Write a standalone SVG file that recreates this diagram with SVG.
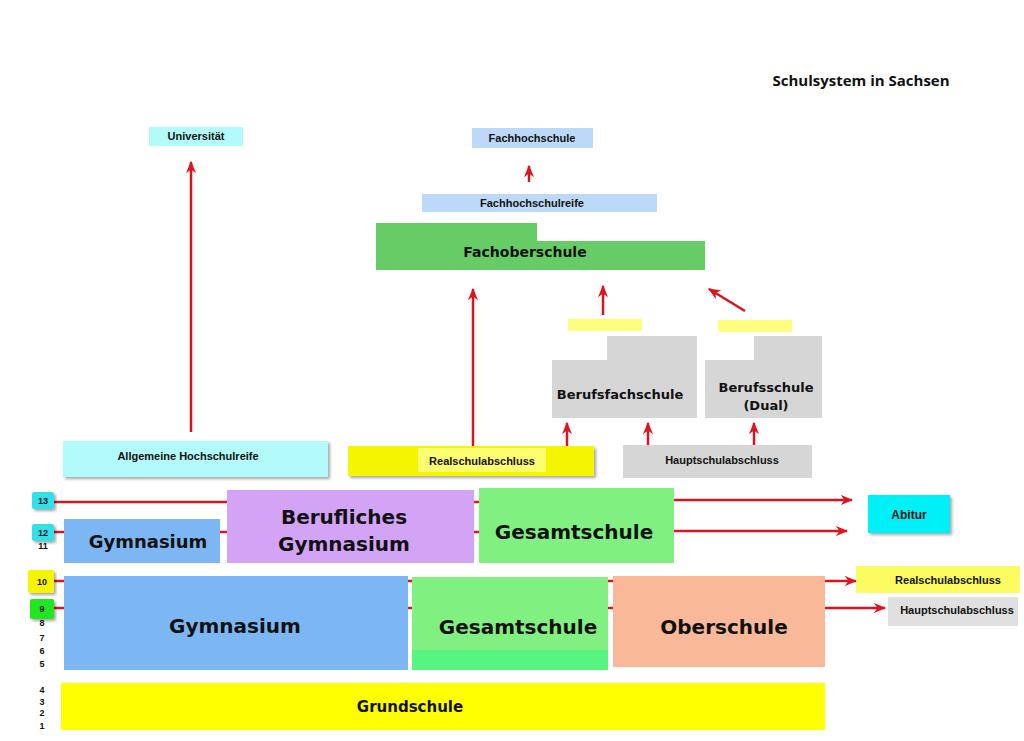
<svg xmlns="http://www.w3.org/2000/svg" width="1024" height="741" viewBox="0 0 1024 741">
<defs>
<marker id="ah" viewBox="0 0 10 10" refX="9" refY="5" markerWidth="5" markerHeight="5" orient="auto" markerUnits="strokeWidth"><path d="M0,1 L10,5 L0,9 L3,5 z" fill="#e0141e"/></marker>
<filter id="sh" x="-5%" y="-10%" width="115%" height="130%"><feDropShadow dx="2" dy="2" stdDeviation="1.5" flood-opacity="0.35"/></filter>
</defs>
<style>
text{font-family:"DejaVu Sans","Liberation Sans",sans-serif;font-weight:bold;fill:#111;text-anchor:middle}
.s{font-size:11px;font-family:"Liberation Sans",sans-serif}
.m{font-size:14px}
.b{font-size:20px}
.n{font-size:9px;font-family:"Liberation Sans",sans-serif}
.c line,.c path{stroke:#d81420;stroke-width:2.5;fill:none}
.c .a{marker-end:url(#ah)}
</style>
<rect width="1024" height="741" fill="#fff"/>
<text x="861" y="86" style="font-size:15px;font-family:'Open Sans',sans-serif">Schulsystem in Sachsen</text>

<g class="c">
<line class="a" x1="191" y1="432" x2="191" y2="162"/>
<line class="a" x1="473" y1="446" x2="473" y2="289"/>
<line class="a" x1="529" y1="182" x2="529" y2="166"/>
<line class="a" x1="603" y1="315" x2="603" y2="286"/>
<line class="a" x1="745" y1="311" x2="709" y2="289"/>
<line class="a" x1="567" y1="446" x2="567" y2="423"/>
<line class="a" x1="648" y1="445" x2="648" y2="423"/>
<line class="a" x1="754" y1="445" x2="754" y2="423"/>
<line x1="54" y1="502" x2="227" y2="502"/>
<line class="a" x1="674" y1="500" x2="852" y2="500"/>
<line x1="54" y1="532" x2="64" y2="532"/>
<line x1="220" y1="532" x2="227" y2="532"/>
<line x1="474" y1="532" x2="479" y2="532"/>
<line x1="474" y1="502" x2="479" y2="502"/>
<line class="a" x1="674" y1="531" x2="847" y2="531"/>
<line x1="54" y1="581" x2="64" y2="581"/>
<line x1="408" y1="581" x2="412" y2="581"/>
<line x1="608" y1="581" x2="613" y2="581"/>
<line class="a" x1="825" y1="581" x2="856" y2="581"/>
<line x1="54" y1="608" x2="64" y2="608"/>
<line x1="408" y1="608" x2="412" y2="608"/>
<line x1="608" y1="608" x2="613" y2="608"/>
<line class="a" x1="825" y1="608" x2="885" y2="608"/>
</g>

<g id="universitaet"><rect x="149" y="127" width="94" height="19" fill="#b3fafa"/><text class="s" x="196" y="140">Universität</text></g>
<g id="fachhochschule"><rect x="472" y="128" width="121" height="20" fill="#bcdaf7"/><text class="s" x="532" y="142">Fachhochschule</text></g>
<g id="fachhochschulreife"><rect x="422" y="194" width="235" height="18" fill="#bcdaf7"/><text class="s" x="532" y="207">Fachhochschulreife</text></g>
<g id="fachoberschule"><path d="M376,223 H537 V241 H705 V270 H376 Z" fill="#66cc66"/><text class="m" x="525" y="257">Fachoberschule</text></g>
<g id="gelb1"><rect x="568" y="319" width="74" height="12" fill="#fdfd80"/></g>
<g id="gelb2"><rect x="718" y="320" width="74" height="12" fill="#fdfd80"/></g>
<g id="berufsfachschule"><path d="M552,360 H607 V336 H697 V418 H552 Z" fill="#d6d6d6"/><text class="m" x="620" y="399" style="font-size:13px">Berufsfachschule</text></g>
<g id="berufsschule"><path d="M705,360 H754 V336 H822 V418 H705 Z" fill="#d6d6d6"/><text class="m" x="766" y="392" style="font-size:13px">Berufsschule</text><text class="m" x="766" y="410" style="font-size:13px">(Dual)</text></g>
<g id="allg-hochschulreife"><rect x="63" y="441" width="265" height="36" fill="#b3fafa" filter="url(#sh)"/><text class="s" x="188" y="460">Allgemeine Hochschulreife</text></g>
<g id="realschulabschluss-mitte"><rect x="348" y="446" width="246" height="30" fill="#f5f500" filter="url(#sh)"/><rect x="418" y="448" width="128" height="24" fill="#fdfd70"/><text class="s" x="482" y="465">Realschulabschluss</text></g>
<g id="hauptschulabschluss-mitte"><rect x="623" y="445" width="189" height="33" fill="#d6d6d6"/><text class="s" x="722" y="464">Hauptschulabschluss</text></g>

<g id="k13"><rect x="32" y="492" width="22" height="17" rx="2" fill="#33e0e8" filter="url(#sh)"/><text class="n" x="43" y="504">13</text></g>
<g id="k12"><rect x="32" y="524" width="22" height="17" rx="2" fill="#33e0e8" filter="url(#sh)"/><text class="n" x="43" y="536">12</text><text class="n" x="43" y="549">11</text></g>
<g id="k10"><rect x="28" y="570" width="26" height="23" rx="2" fill="#f5f500" filter="url(#sh)"/><text class="n" x="42" y="585">10</text></g>
<g id="k9"><rect x="30" y="599" width="24" height="20" rx="2" fill="#22e622" filter="url(#sh)"/><text class="n" x="42" y="612">9</text></g>
<g id="zahlen"><text class="n" x="42" y="626">8</text><text class="n" x="42" y="641">7</text><text class="n" x="42" y="654">6</text><text class="n" x="42" y="667">5</text><text class="n" x="42" y="693">4</text><text class="n" x="42" y="705">3</text><text class="n" x="42" y="716">2</text><text class="n" x="42" y="729">1</text></g>

<g id="berufliches-gymnasium"><rect x="227" y="490" width="247" height="73" fill="#d3a3f5"/><text class="b" x="344" y="524">Berufliches</text><text class="b" x="344" y="551">Gymnasium</text></g>
<g id="gesamtschule-oben"><rect x="479" y="488" width="195" height="75" fill="#80f080"/><text class="b" x="574" y="539">Gesamtschule</text></g>
<g id="gymnasium-oben"><rect x="64" y="519" width="156" height="44" fill="#7db7f3"/><text class="b" x="148" y="548" style="font-size:18px">Gymnasium</text></g>
<g id="abitur"><rect x="868" y="495" width="82" height="38" fill="#00f0f8" filter="url(#sh)"/><text class="s" x="909" y="519" style="font-size:12px">Abitur</text></g>
<g id="gymnasium"><rect x="64" y="576" width="344" height="94" fill="#7db7f3"/><text class="b" x="235" y="633">Gymnasium</text></g>
<g id="gesamtschule"><rect x="412" y="577" width="196" height="93" fill="#80f080"/><rect x="412" y="650" width="196" height="20" fill="#55f57f"/><text class="b" x="518" y="634">Gesamtschule</text></g>
<g id="oberschule"><rect x="613" y="576" width="212" height="91" fill="#f9b898"/><text class="b" x="724" y="634">Oberschule</text></g>
<g id="realschulabschluss"><rect x="856" y="566" width="164" height="27" fill="#fcfc60"/><text class="s" x="948" y="584">Realschulabschluss</text></g>
<g id="hauptschulabschluss"><rect x="888" y="597" width="130" height="29" fill="#e0e0e0"/><text class="s" x="957" y="614">Hauptschulabschluss</text></g>
<g id="grundschule"><rect x="61" y="683" width="764" height="47" fill="#ffff00"/><text class="m" x="410" y="712" style="font-size:15px">Grundschule</text></g>
</svg>
